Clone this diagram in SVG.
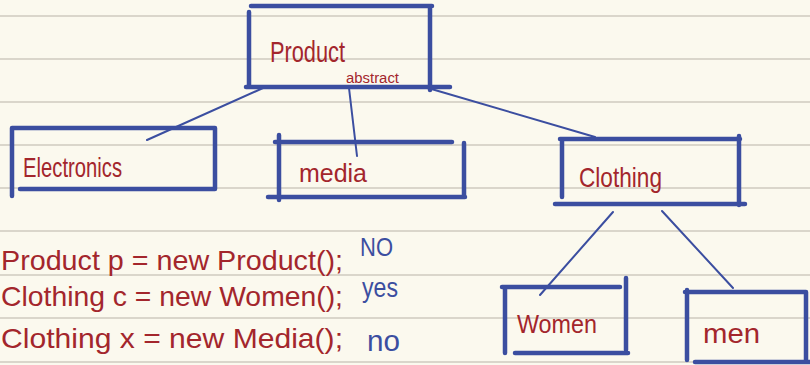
<svg xmlns="http://www.w3.org/2000/svg" width="810" height="365" viewBox="0 0 810 365">
<style>
.rule{stroke:#dad6cb;stroke-width:2}
.box{stroke:#3b4ea0;stroke-width:4.5;stroke-linecap:round;fill:none}
.con{stroke:#3b4ea0;stroke-width:2;stroke-linecap:round;fill:none}
.red{fill:#a3262c;font-family:"Liberation Sans",sans-serif}
.blue{fill:#3b4ea0;font-family:"Liberation Sans",sans-serif}
</style>
<rect width="810" height="365" fill="#fbf9ee"/>
<g id="paper">
<line class="rule" x1="0" y1="16" x2="810" y2="16"/>
<line class="rule" x1="0" y1="59" x2="810" y2="59"/>
<line class="rule" x1="0" y1="102" x2="810" y2="102"/>
<line class="rule" x1="0" y1="145" x2="810" y2="145"/>
<line class="rule" x1="0" y1="188" x2="810" y2="188"/>
<line class="rule" x1="0" y1="231" x2="810" y2="231"/>
<line class="rule" x1="0" y1="275" x2="810" y2="275"/>
<line class="rule" x1="0" y1="318" x2="810" y2="318"/>
<line class="rule" x1="0" y1="362" x2="810" y2="362"/>
</g>
<g id="connectors">
<line class="con" x1="263" y1="88" x2="147" y2="140"/>
<line class="con" x1="349" y1="88" x2="357" y2="156"/>
<line class="con" x1="428" y1="88" x2="595" y2="137"/>
<line class="con" x1="613" y1="212" x2="540" y2="295"/>
<line class="con" x1="662" y1="211" x2="733" y2="288"/>
</g>
<g id="product">
<path class="box" d="M251 6H432M249 12V87M430 6V90M246 87H450"/>
<text class="red" x="270" y="62" font-size="30" textLength="75" lengthAdjust="spacingAndGlyphs">Product</text>
<text class="red" x="346" y="83" font-size="14" textLength="53" lengthAdjust="spacingAndGlyphs">abstract</text>
</g>
<g id="electronics">
<path class="box" d="M12 128H215M12 128V196M215 128V189M20 189H215"/>
<text class="red" x="23" y="177" font-size="28" textLength="99" lengthAdjust="spacingAndGlyphs">Electronics</text>
</g>
<g id="media">
<path class="box" d="M275 142H452M279 135V200M464 143V197M268 197H465"/>
<text class="red" x="299" y="182" font-size="26" textLength="68" lengthAdjust="spacingAndGlyphs">media</text>
</g>
<g id="clothing">
<path class="box" d="M560 139H740M562 139V197M739 136V205M555 204H745"/>
<text class="red" x="579" y="187" font-size="28" textLength="83" lengthAdjust="spacingAndGlyphs">Clothing</text>
</g>
<g id="women">
<path class="box" d="M502 287H620M505 287V353M626 278V350M515 353H628"/>
<text class="red" x="517" y="333" font-size="26" textLength="80" lengthAdjust="spacingAndGlyphs">Women</text>
</g>
<g id="men">
<path class="box" d="M685 292H806M687 290V360M806 292V362M695 362H810"/>
<text class="red" x="703" y="343" font-size="28" textLength="57" lengthAdjust="spacingAndGlyphs">men</text>
</g>
<g id="code">
<text class="red" x="1" y="270" font-size="28.5" textLength="342" lengthAdjust="spacingAndGlyphs">Product p = new Product();</text>
<text class="red" x="1" y="306" font-size="28.5" textLength="342" lengthAdjust="spacingAndGlyphs">Clothing c = new Women();</text>
<text class="red" x="1" y="348" font-size="28.5" textLength="342" lengthAdjust="spacingAndGlyphs">Clothing x = new Media();</text>
<text class="blue" x="360" y="256" font-size="25" textLength="33" lengthAdjust="spacingAndGlyphs">NO</text>
<text class="blue" x="362" y="297" font-size="27" textLength="36" lengthAdjust="spacingAndGlyphs">yes</text>
<text class="blue" x="367" y="351" font-size="29" textLength="33" lengthAdjust="spacingAndGlyphs">no</text>
</g>
</svg>
